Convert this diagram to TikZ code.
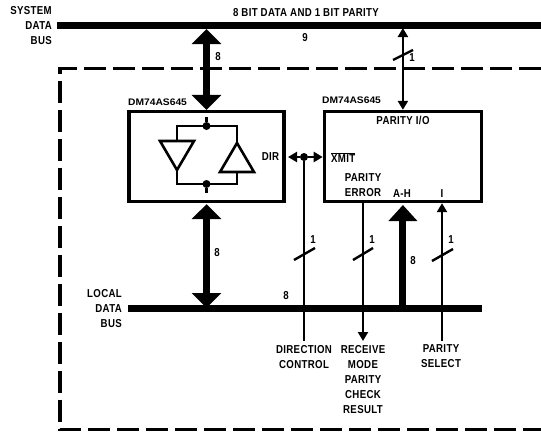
\documentclass[tikz,border=0pt]{standalone}
\usepackage{fontspec}
\setmainfont[FakeStretch=0.84,LetterSpace=3]{Liberation Sans Bold}
\newfontfamily\partfont[FakeStretch=1.08]{Liberation Sans Bold}
\usetikzlibrary{arrows.meta,positioning}
\begin{document}
\begin{tikzpicture}[
  x=1pt, y=-1pt,
  label/.style={font=\fontsize{11.5}{13}\selectfont, inner sep=0pt, align=center},
  stacked/.style={label, outer ysep=4pt},
  sidetext/.style={label, align=right, anchor=east},
  chip/.style={draw, line width=3.4pt, minimum width=155pt, minimum height=90pt, inner sep=0pt},
  partno/.style={font=\partfont\fontsize{9.5}{11}\selectfont, inner sep=0pt},
  bus/.style={line width=7pt},
  frame/.style={line width=3.2pt, dash pattern=on 22pt off 7pt},
  wide/.style={line width=7pt, {Triangle[length=15pt,width=29pt]}-{Triangle[length=15pt,width=29pt]}},
  wideup/.style={line width=7pt, -{Triangle[length=16pt,width=28pt]}},
  wire/.style={line width=2.6pt},
  wirehead/.style={wire, -{Triangle[length=9pt,width=10pt]}},
  wiretwo/.style={wire, {Triangle[length=9pt,width=10pt]}-{Triangle[length=9pt,width=10pt]}},
  tick/.style={line width=2.4pt},
  gate/.style={line width=2.6pt, line join=miter},
  dot/.style={circle, fill=black, minimum size=8pt, inner sep=0pt}
]
  \useasboundingbox (0,0) rectangle (541,434);
  \draw[frame] (541,68.5) -- (60,68.5) -- (60,429.5) -- (541,429.5);

  \node[chip] (xcvr) at (206.5,156.5) {};
  \node[chip, minimum width=157pt, right=37pt of xcvr] (parity) {};
  \node[partno, anchor=south west] (xcvrno) at (128,106) {DM74AS645};
  \node[partno, anchor=south west] (parityno) at (322,104) {DM74AS645};

  \coordinate (sysl) at (57,25);
  \coordinate (sysr) at (541,25);
  \coordinate (locl) at (128,308);
  \coordinate (locr) at (482,308);
  \draw[bus] (sysl) -- (sysr);
  \draw[bus] (locl) -- (locr);

  \draw[wide] (xcvr.north |- sysr) ++(0,4) -- (xcvr.north);
  \draw[wide] (xcvr.south) ++(0,1) -- (xcvr.south |- locl);
  \draw[wideup] (parity.south |- locl) -- ++(0,-103) coordinate (ahtip);
  \draw[wiretwo] (parity.north |- sysr) ++(0,3) -- (parity.north);

  \node[dot] (topdot) at (206.5,126) {};
  \node[dot] (botdot) at (206.5,184) {};
  \coordinate (dntop) at (177,141);
  \coordinate (dntip) at (177,170);
  \coordinate (uptip) at (237,143);
  \coordinate (upbase) at (237,172);
  \draw[gate] (topdot) -- ++(0,-9);
  \draw[gate] (botdot) -- ++(0,9);
  \draw[gate] (dntop) -- (dntop |- topdot) -- (uptip |- topdot) -- (uptip);
  \draw[gate] (dntip) -- (dntip |- botdot) -- (upbase |- botdot) -- (upbase);
  \draw[gate] (160,141) -- (194,141) -- (dntip) -- cycle;
  \draw[gate] (220,172) -- (254,172) -- (uptip) -- cycle;

  \node[label] (dir) at (270.5,157) {DIR};
  \node[label, anchor=west] (xmit) at (331,158) {$\overline{\mbox{XMIT}}$};
  \node[dot, minimum size=8pt] (dirdot) at (304,157) {};
  \coordinate (dirl) at (288,157);
  \coordinate (dirr) at (parity.west |- dirdot);
  \draw[wirehead] (dirdot) -- (dirl);
  \draw[wirehead] (dirdot) -- (dirr);

  \node[stacked, anchor=north] (dirlbl) at (304,341) {DIRECTION\\[2pt]CONTROL};
  \node[stacked, anchor=north] (rcvlbl) at (363,341) {RECEIVE\\[2pt]MODE\\[2pt]PARITY\\[2pt]CHECK\\[2pt]RESULT};
  \node[stacked, anchor=north] (sellbl) at (441,341) {PARITY\\[2pt]SELECT};
  \draw[wire] (dirdot) -- (dirlbl.north -| dirdot);
  \draw[wirehead] (parity.south -| rcvlbl) -- (rcvlbl.north);
  \draw[wirehead] (sellbl.north -| 442,0) -- (parity.south -| 442,0);

  \draw[tick] (393,60) -- (413,50);
  \draw[tick] (294,260) -- (315,248);
  \draw[tick] (353,260) -- (373,248);
  \draw[tick] (432,261) -- (453,249);

  \node[sidetext] (syslbl) at (52,26) {SYSTEM\\[2pt]DATA\\[2pt]BUS};
  \node[sidetext] (loclbl) at (122,309) {LOCAL\\[2pt]DATA\\[2pt]BUS};
  \node[label] (systxt) at (306,13) {8 BIT DATA AND 1 BIT PARITY};
  \node[label] (nine) at (305,38) {9};
  \node[label] (sysw) at (218,57) {8};
  \node[label] (parw) at (412,58) {1};
  \node[label] (locw) at (217,253) {8};
  \node[label] (busw) at (286,296) {8};
  \node[label] (ahw) at (413,261) {8};
  \node[label] (dirw) at (313,240) {1};
  \node[label] (rcvw) at (372,240) {1};
  \node[label] (selw) at (451,240) {1};

  \node[label] (partxt) at (403,120) {PARITY I/O};
  \node[label] (errtxt) at (363,185.5) {PARITY\\[2pt]ERROR};
  \node[label] (ahtxt) at (402,194) {A-H};
  \node[label] (itxt) at (442,194) {I};
\end{tikzpicture}
\end{document}
